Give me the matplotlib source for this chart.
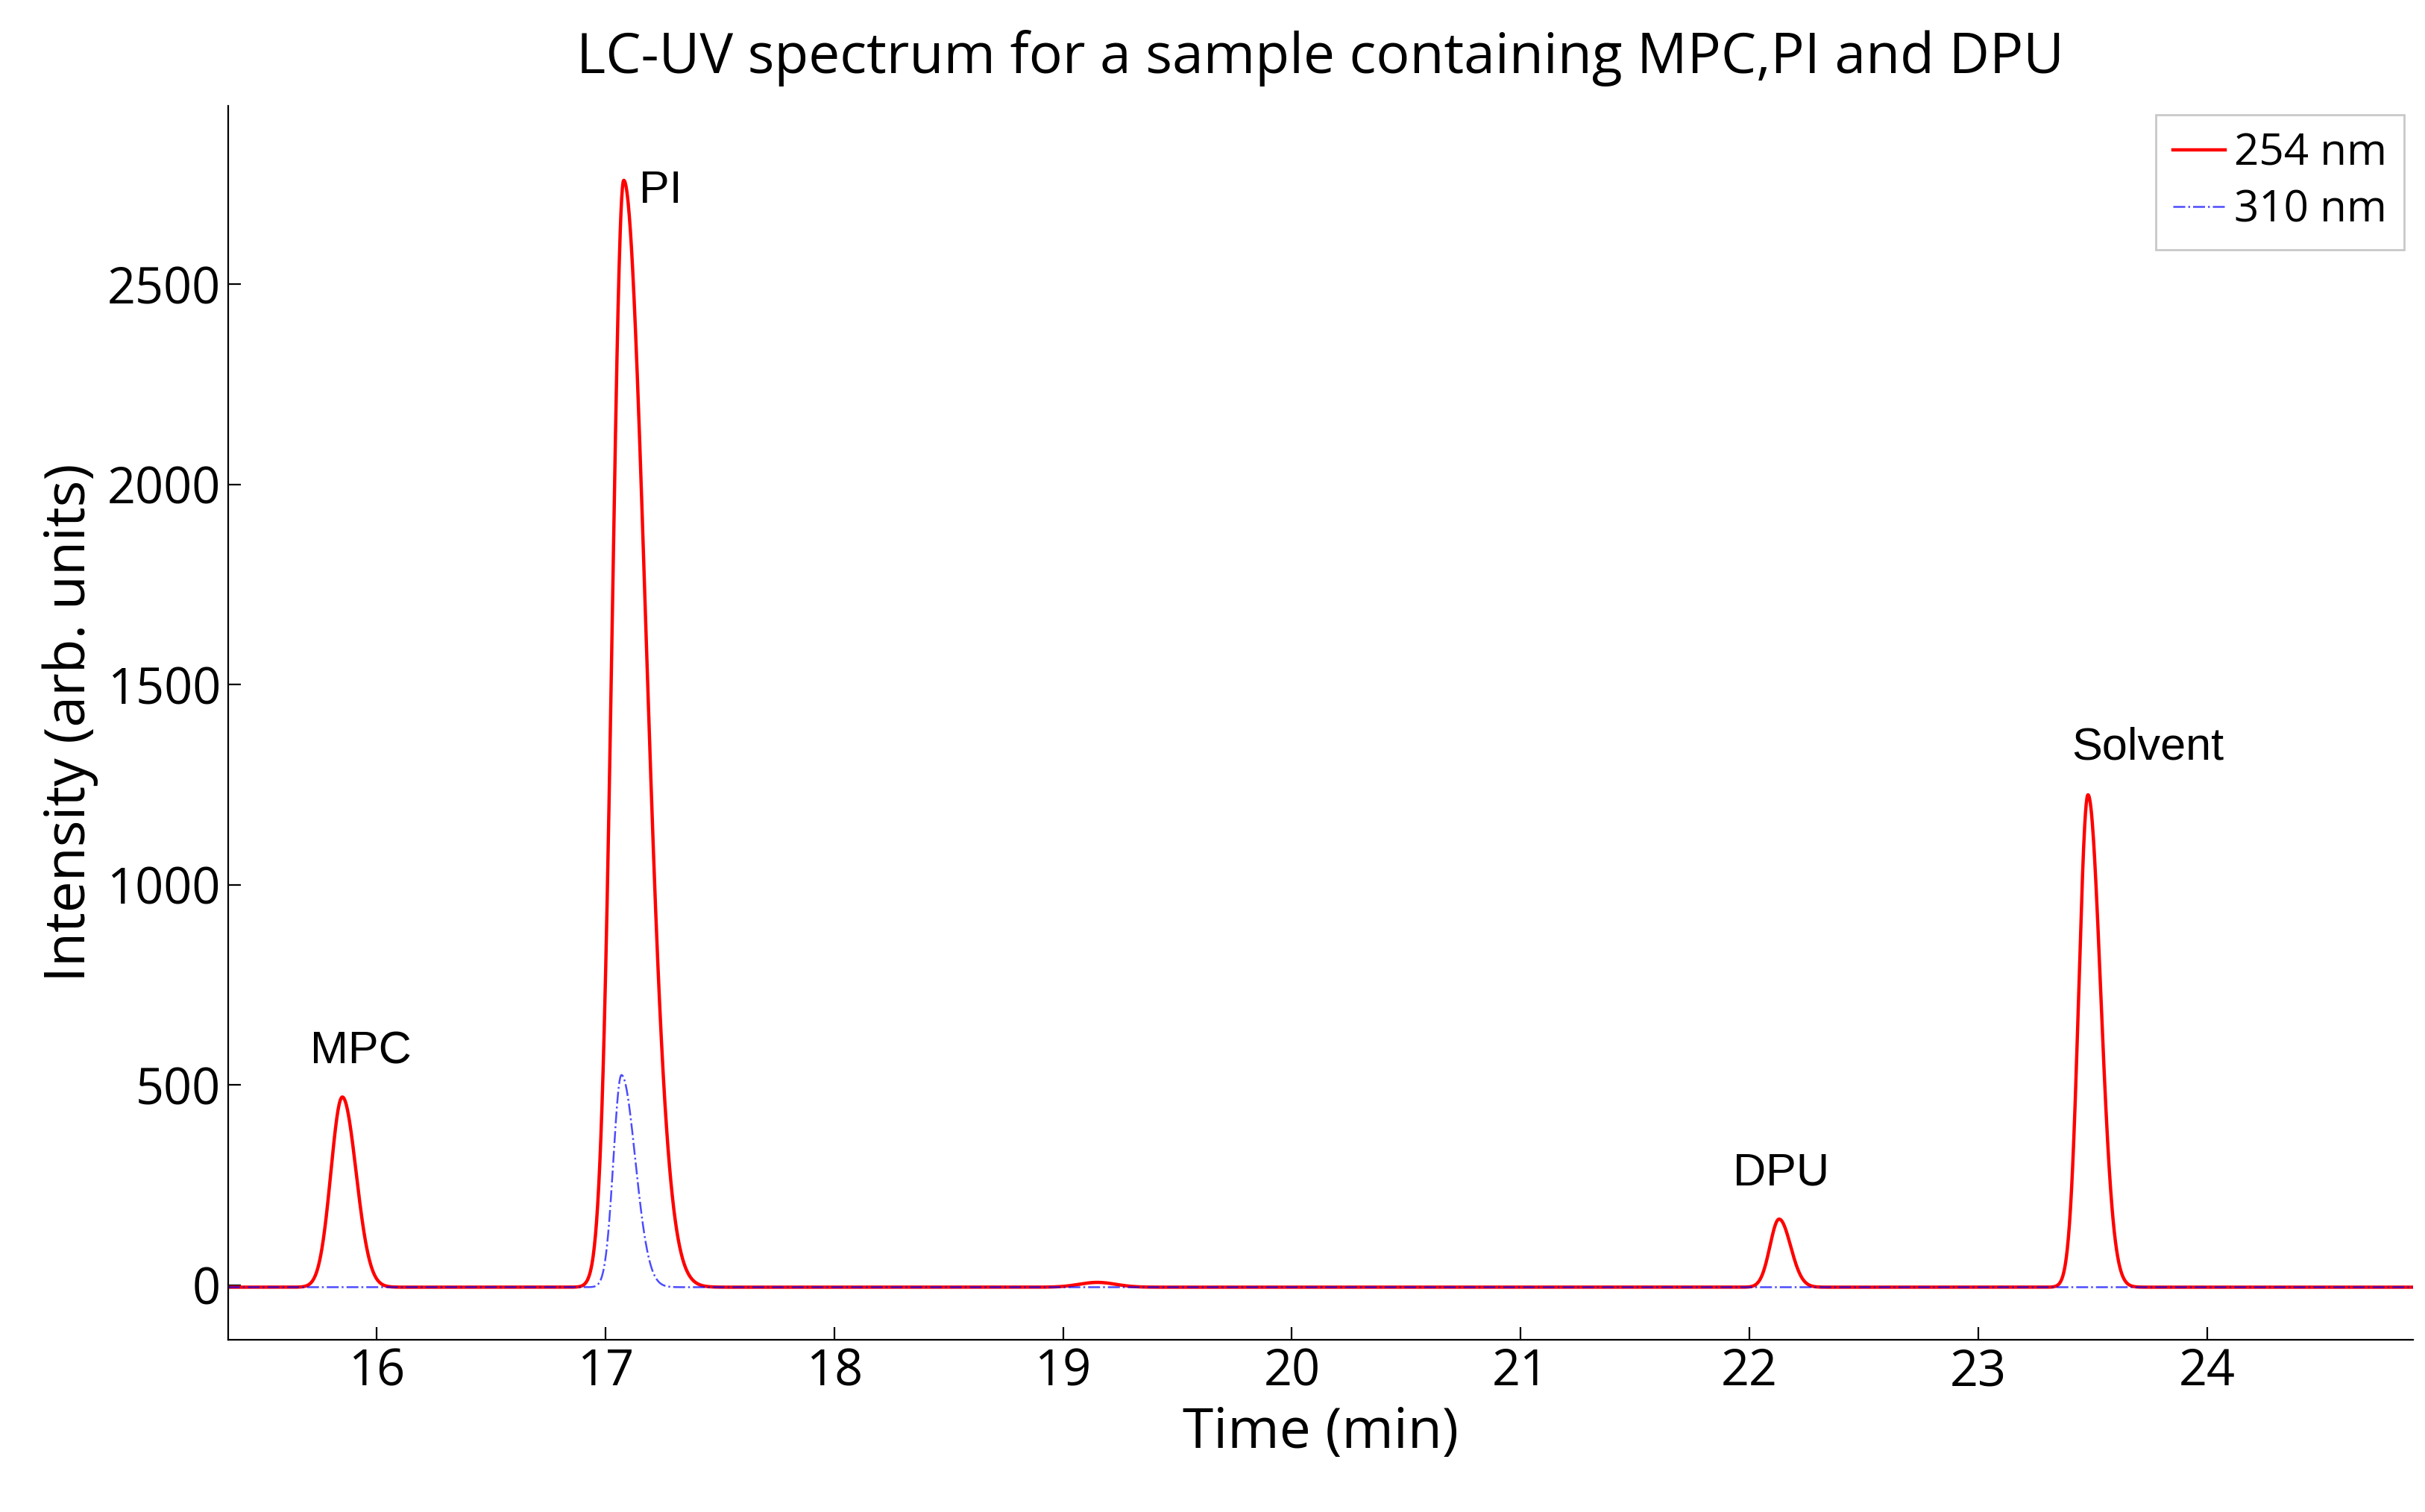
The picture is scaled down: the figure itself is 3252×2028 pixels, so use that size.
import numpy as np
import matplotlib.pyplot as plt

# peak table: centre (min), height, left width, right width
peaks_254_center = [15.85, 17.08, 19.15, 22.13, 23.48]
peaks_254_height = [475, 2765, 12, 170, 1230]
peaks_254_wleft = [0.05, 0.05, 0.08, 0.04, 0.04]
peaks_254_wright = [0.06, 0.095, 0.08, 0.05, 0.055]

peaks_310_center = [17.07]
peaks_310_height = [530]
peaks_310_wleft = [0.035]
peaks_310_wright = [0.06]

baseline = -5
labels = ['MPC', 'PI', 'DPU', 'Solvent']
label_x = [15.93, 17.24, 22.14, 23.74]
label_y = [530, 2680, 225, 1290]


def trace(t, centers, heights, wl, wr):
    y = np.full_like(t, baseline)
    for c, h, a, b in zip(centers, heights, wl, wr):
        w = np.where(t < c, a, b)
        y += h * np.exp(-0.5 * ((t - c) / w) ** 2)
    return y


t = np.linspace(15.35, 24.9, 6000)
y254 = trace(t, peaks_254_center, peaks_254_height, peaks_254_wleft, peaks_254_wright)
y310 = trace(t, peaks_310_center, peaks_310_height, peaks_310_wleft, peaks_310_wright)

plt.rcParams['font.family'] = ['Open Sans', 'DejaVu Sans']
fig = plt.figure(figsize=(16.26, 10.14), dpi=200)
ax = fig.add_axes([0.094, 0.114, 0.901, 0.816])

ax.plot(t, y254, color='red', lw=1.6, label='254 nm')
ax.plot(t, y310, color='blue', lw=0.9, ls='-.', alpha=0.7, label='310 nm')

for s, x, y in zip(labels, label_x, label_y):
    ax.text(x, y, s, ha='center', va='bottom', fontsize=22, family='Liberation Sans')

ax.set_xlim(15.35, 24.9)
ax.set_ylim(-136, 2946)
ax.set_xticks(range(16, 25))
ax.set_yticks([0, 500, 1000, 1500, 2000, 2500])
ax.tick_params(labelsize=24, direction='in', length=6)
ax.spines['top'].set_visible(False)
ax.spines['right'].set_visible(False)
ax.set_xlabel('Time (min)', fontsize=27, labelpad=4)
ax.set_ylabel('Intensity (arb. units)', fontsize=27)
ax.set_title('LC-UV spectrum for a sample containing MPC,PI and DPU', fontsize=27, pad=16)
ax.legend(loc='upper right', fontsize=21, fancybox=False, edgecolor='#bbbbbb',
          handlelength=1.2, handletextpad=0.2, borderaxespad=0.2, labelspacing=0.3)

fig.savefig('out.png', dpi=200)
